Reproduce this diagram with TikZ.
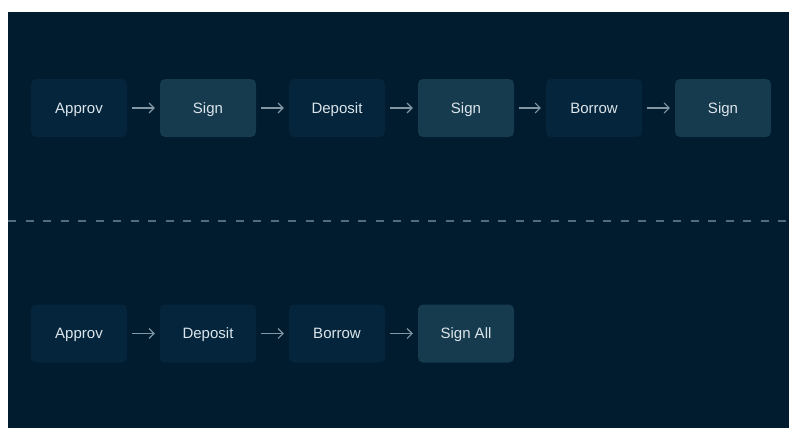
\documentclass[tikz,border=0pt]{standalone}
\usepackage{fontspec}
\setmainfont{Liberation Sans}
\usetikzlibrary{arrows.meta}

\definecolor{bgnavy}{HTML}{011B2F}
\definecolor{stepdark}{HTML}{04253B}
\definecolor{steplight}{HTML}{163A4E}
\definecolor{steptext}{HTML}{DCE5EB}
\definecolor{flowgray}{HTML}{8296A4}
\definecolor{splitgray}{HTML}{526D7E}

\begin{document}
\begin{tikzpicture}[
  x=1pt, y=-1pt,
  txn/.style={rectangle, rounded corners=5pt, minimum width=96pt,
    minimum height=58pt, inner sep=0pt, text=steptext,
    text height=10.7pt, text depth=0pt,
    font=\fontsize{15}{17}\selectfont},
  plain/.style={txn, fill=stepdark},
  signbox/.style={txn, fill=steplight},
  flow/.style={draw=flowgray, line width=1.1pt,
    -{Straight Barb[length=5pt,width=10pt]}, shorten <=5pt, shorten >=5pt},
]

% Canvas
\useasboundingbox (0,0) rectangle (795,428);
\fill[white] (0,0) rectangle (795,428);
\fill[bgnavy] (8,12) rectangle (789,428);

% Top row: one signature per step
\node[plain] (a1) at (79, 108) {Approv};
\node[signbox] (s1) at (208, 108) {Sign};
\node[plain] (d1) at (337, 108) {Deposit};
\node[signbox] (s2) at (466, 108) {Sign};
\node[plain] (b1) at (594, 108) {Borrow};
\node[signbox] (s3) at (723, 108) {Sign};

\draw[flow] (a1) -- (s1);
\draw[flow] (s1) -- (d1);
\draw[flow] (d1) -- (s2);
\draw[flow] (s2) -- (b1);
\draw[flow] (b1) -- (s3);

% Divider
\coordinate (cutL) at (8, 221);
\coordinate (cutR) at (789, 221);
\draw[splitgray, line width=1.4pt, dash pattern=on 8pt off 9.5pt] (cutL) -- (cutR);

% Bottom row: one signature at the end
\node[plain] (a2) at (79, 333.5) {Approv};
\node[plain] (d2) at (208, 333.5) {Deposit};
\node[plain] (b2) at (337, 333.5) {Borrow};
\node[signbox] (s4) at (466, 333.5) {Sign All};

\draw[flow] (a2) -- (d2);
\draw[flow] (d2) -- (b2);
\draw[flow] (b2) -- (s4);

\end{tikzpicture}
\end{document}
